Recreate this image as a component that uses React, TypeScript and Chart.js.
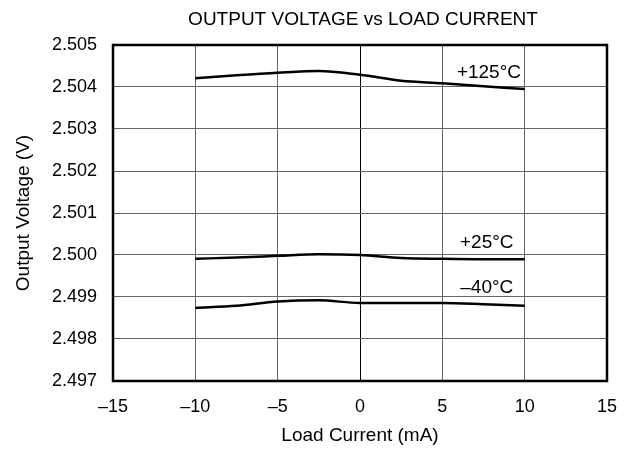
import React, { useEffect, useRef } from "react";
import { Chart, registerables } from "chart.js";

Chart.register(...registerables);

const loadCurrent = [-10, -7.5, -5, -2.5, 0, 2.5, 5, 7.5, 10];
const v125 = [2.50421, 2.50428, 2.50434, 2.50438, 2.50429, 2.50415, 2.50409, 2.50402, 2.50395];
const v25 = [2.49991, 2.49994, 2.49998, 2.50002, 2.5, 2.49993, 2.49991, 2.4999, 2.4999];
const vm40 = [2.49874, 2.49879, 2.49889, 2.49892, 2.49886, 2.49886, 2.49886, 2.49883, 2.49879];
const seriesNames = ["+125°C", "+25°C", "–40°C"];
const labelX = [7.83, 7.7, 7.7];
const labelY = [2.50433, 2.50029, 2.49921];
const xTicks = [-15, -10, -5, 0, 5, 10, 15];
const yTicks = [2.497, 2.498, 2.499, 2.5, 2.501, 2.502, 2.503, 2.504, 2.505];
const chartTitle = "OUTPUT VOLTAGE vs LOAD CURRENT";

const FONT = "Liberation Sans, Arial, Helvetica, sans-serif";

export default function App() {
  const ref = useRef<HTMLCanvasElement>(null);
  useEffect(() => {
    document.body.style.margin = "0";
    const ctx = ref.current!.getContext("2d")!;
    const series = [v125, v25, vm40];
    const labelPlugin = {
      id: "labels",
      afterDatasetsDraw(chart: any) {
        const c = chart.ctx;
        const xs = chart.scales.x;
        const ys = chart.scales.y;
        const a = chart.chartArea;
        c.save();
        c.strokeStyle = "#000";
        c.lineWidth = 2.5;
        c.strokeRect(a.left, a.top, a.right - a.left, a.bottom - a.top);
        c.fillStyle = "#000";
        c.font = `19px ${FONT}`;
        c.textAlign = "center";
        c.textBaseline = "middle";
        seriesNames.forEach((n, i) => {
          c.fillText(n, xs.getPixelForValue(labelX[i]), ys.getPixelForValue(labelY[i]));
        });
        c.fillText(chartTitle, (a.left + a.right) / 2 + 3, 20);
        c.restore();
      },
    };
    const chart = new Chart(ctx, {
      type: "line",
      data: {
        datasets: series.map((s, i) => ({
          label: seriesNames[i],
          data: s.map((v, j) => ({ x: loadCurrent[j], y: v })),
          borderColor: "#000",
          borderWidth: 2.5,
          pointRadius: 0,
          tension: 0.4,
          cubicInterpolationMode: "monotone" as const,
          fill: false,
        })),
      },
      options: {
        animation: false,
        responsive: false,
        maintainAspectRatio: false,
        layout: { padding: { left: 0, right: 22, top: 45, bottom: 0 } },
        plugins: {
          legend: { display: false },
          tooltip: { enabled: false },
          title: { display: false },
        },
        scales: {
          x: {
            type: "linear",
            min: -15,
            max: 15,
            afterBuildTicks: (s: any) => {
              s.ticks = xTicks.map((v) => ({ value: v }));
            },
            afterFit: (s: any) => {
              s.height = 74;
              s.paddingLeft = 0;
              s.paddingRight = 0;
            },
            ticks: {
              color: "#000",
              font: { family: FONT, size: 18 },
              padding: 15,
              callback: (v: any) => (Number(v) < 0 ? "–" + Math.abs(Number(v)) : String(v)),
            },
            grid: {
              color: (c: any) => (c.tick && c.tick.value === 0 ? "#000" : "#666"),
              lineWidth: 1,
              drawTicks: false,
            },
            border: { display: false },
            title: {
              display: true,
              text: "Load Current (mA)",
              color: "#000",
              font: { family: FONT, size: 19 },
              padding: { top: 0, bottom: 8 },
            },
          },
          y: {
            type: "linear",
            min: 2.497,
            max: 2.505,
            afterBuildTicks: (s: any) => {
              s.ticks = yTicks.map((v) => ({ value: v }));
            },
            afterFit: (s: any) => {
              s.width = 113;
              s.paddingTop = 0;
              s.paddingBottom = 0;
            },
            ticks: {
              color: "#000",
              font: { family: FONT, size: 18 },
              padding: 16,
              callback: (v: any) => Number(v).toFixed(3),
            },
            grid: { color: "#666", lineWidth: 1, drawTicks: false },
            border: { display: false },
            title: {
              display: true,
              text: "Output Voltage (V)",
              color: "#000",
              font: { family: FONT, size: 19 },
              padding: { top: 12, bottom: 0 },
            },
          },
        },
      },
      plugins: [labelPlugin],
    });
    return () => chart.destroy();
  }, []);
  return (
    <div style={{ position: "absolute", left: 0, top: 0, width: 629, height: 455 }}>
      <canvas ref={ref} width={629} height={455} />
    </div>
  );
}
